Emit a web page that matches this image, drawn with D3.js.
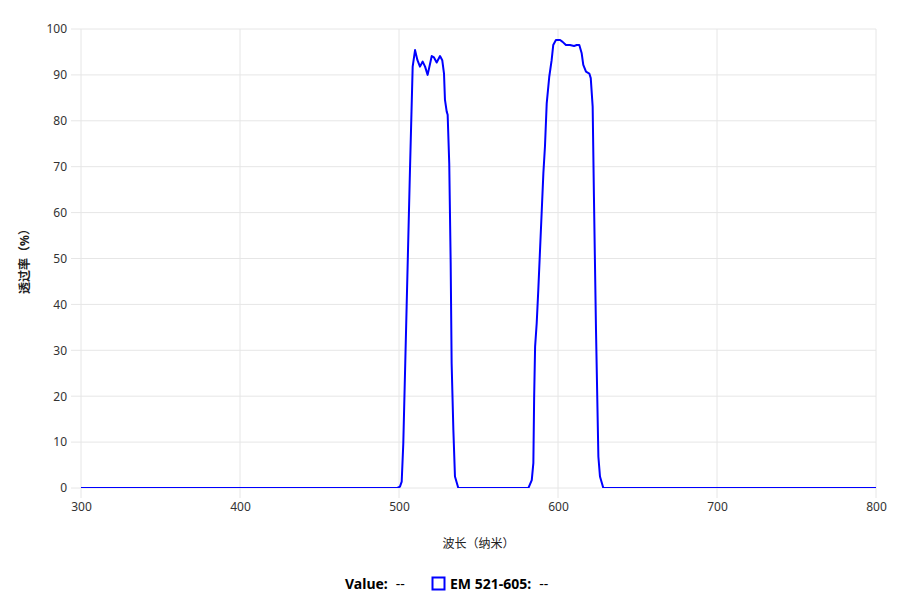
<!DOCTYPE html>
<html><head><meta charset="utf-8">
<script src="https://cdn.jsdelivr.net/npm/d3@7"></script>
<style>
body{margin:0;background:#fff;}
text{font-family:"Noto Sans","Noto Sans CJK SC",sans-serif;}
</style></head>
<body><svg id="c" width="920" height="616"></svg>
<script>
const wavelengths = [300,499,500.6,501.7,502.7,504.8,506.9,508.6,510.1,511.6,513.2,514.9,516.4,518.0,520.6,522.0,523.7,525.8,527.2,528.3,528.9,530.0,530.6,531.6,532.5,533.1,534.2,535.2,537.3,
581.4,583.5,584.5,585.0,585.6,586.6,587.6,589.7,590.8,591.8,592.9,594.5,596.0,597.0,598.7,601.3,602.9,605.0,607.5,610.1,611.8,613.4,614.9,615.9,617.6,619.7,620.6,621.8,622.6,623.9,625.4,626.4,628.5,800];
const transmission = [0,0,0.3,1.4,9.7,39.5,69.3,91.8,95.4,93.2,91.8,92.9,91.8,90.0,94.1,93.8,92.7,94.1,93.2,90.3,84.6,82.0,81.3,70.7,49.0,27.2,12.6,2.5,0,
0,1.7,5.4,19.9,30.8,35.9,43.1,59.8,68.6,74.4,83.8,89.6,93.2,96.5,97.6,97.6,97.2,96.5,96.5,96.3,96.5,96.5,94.7,92.2,90.7,90.3,89.3,83.1,63.5,34.4,6.8,2.5,0,0];
const xTicks = [300,400,500,600,700,800];
const yTicks = [0,10,20,30,40,50,60,70,80,90,100];
const seriesName = "EM 521-605";
const xTitle = "波长（纳米）";
const yTitle = "透过率（%）";

const svg = d3.select("#c");
const L=81,R=876,T=29,B=488;
const x = d3.scaleLinear().domain([300,800]).range([L,R]);
const y = d3.scaleLinear().domain([0,100]).range([B,T]);

svg.append("defs").append("clipPath").attr("id","clip")
  .append("rect").attr("x",L).attr("y",T-3).attr("width",R-L).attr("height",B-T+3);

// grid
svg.append("g").selectAll("line").data(yTicks).join("line")
  .attr("x1",L-10).attr("x2",R).attr("y1",d=>y(d)).attr("y2",d=>y(d))
  .attr("stroke","#e6e6e6").attr("stroke-width",1);
svg.append("g").selectAll("line").data(xTicks).join("line")
  .attr("x1",d=>x(d)).attr("x2",d=>x(d)).attr("y1",T).attr("y2",B+10)
  .attr("stroke","#e6e6e6").attr("stroke-width",1);

// axes labels
const yAxis = d3.axisLeft(y).tickValues(yTicks).tickSize(0).tickPadding(14);
const gy = svg.append("g").attr("transform",`translate(${L},0)`).call(yAxis);
gy.select(".domain").remove();
gy.selectAll("text").attr("font-size",12).attr("fill","#333");
const xAxis = d3.axisBottom(x).tickValues(xTicks).tickSize(0).tickPadding(14);
const gx = svg.append("g").attr("transform",`translate(0,${B})`).call(xAxis);
gx.select(".domain").remove();
gx.selectAll("text").attr("font-size",12).attr("fill","#333");

// titles
svg.append("text").attr("x",(L+R)/2).attr("y",548).attr("text-anchor","middle")
  .attr("font-size",12).attr("fill","#222").text(xTitle);
svg.append("text").attr("transform",`translate(29,${(T+B)/2}) rotate(-90)`).attr("text-anchor","middle")
  .attr("font-size",12).attr("font-weight","bold").attr("fill","#222").text(yTitle);

// line
const pts = wavelengths.map((w,i)=>[w,transmission[i]]);
svg.append("path").datum(pts).attr("clip-path","url(#clip)")
  .attr("d",d3.line().x(d=>x(d[0])).y(d=>y(d[1])))
  .attr("fill","none").attr("stroke","#0000ff").attr("stroke-width",2).attr("stroke-linejoin","round");

// legend
const lg = svg.append("g").attr("font-size",14).attr("fill","#000");
const t1 = lg.append("text").attr("x",345).attr("y",589);
t1.append("tspan").attr("font-weight","bold").text("Value:");
t1.append("tspan").attr("dx",8).text("--");
lg.append("rect").attr("x",432.5).attr("y",577.5).attr("width",12).attr("height",12)
  .attr("fill","none").attr("stroke","#0000ff").attr("stroke-width",2);
const t2 = lg.append("text").attr("x",450).attr("y",589);
t2.append("tspan").attr("font-weight","bold").text(seriesName+":");
t2.append("tspan").attr("dx",8).text("--");
</script></body></html>
